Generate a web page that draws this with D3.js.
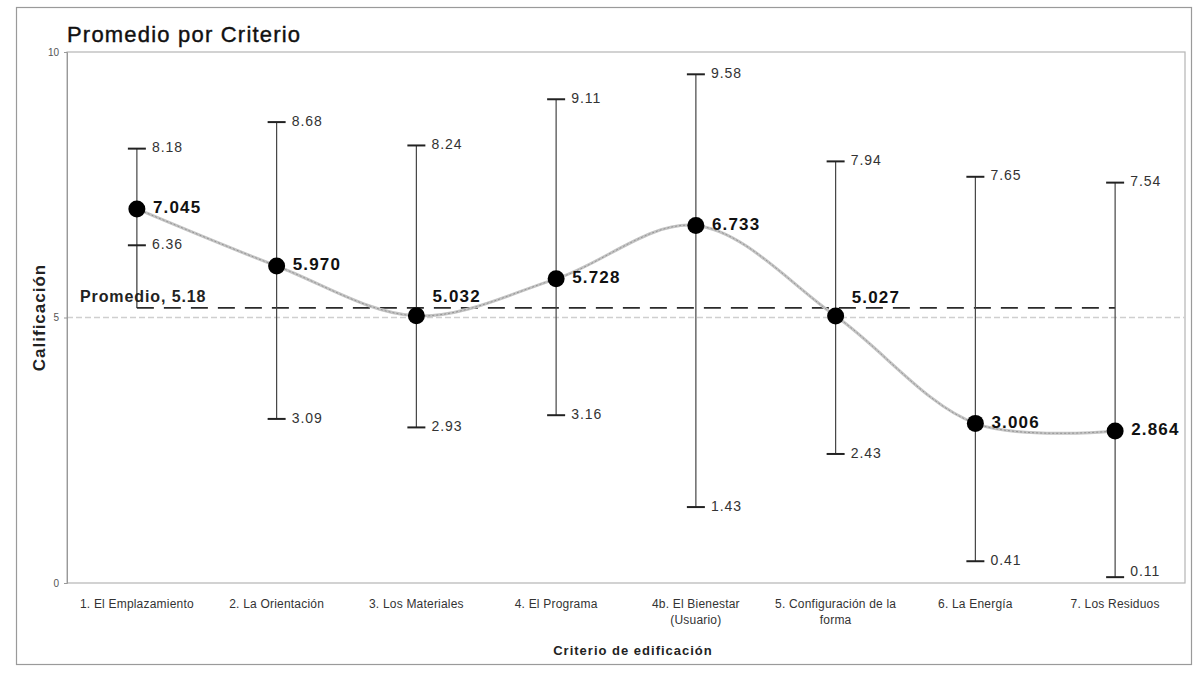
<!DOCTYPE html>
<html>
<head>
<meta charset="utf-8">
<script src="https://cdn.jsdelivr.net/npm/d3@7"></script>
<style>
  html, body { margin: 0; padding: 0; background: #fff; }
  svg { display: block; font-family: "Liberation Sans", Arial, sans-serif; }
</style>
</head>
<body>
<svg id="chart" width="1198" height="676"></svg>
<script>
// ---- data ----
const categories = [
  ["1. El Emplazamiento"],
  ["2. La Orientación"],
  ["3. Los Materiales"],
  ["4. El Programa"],
  ["4b. El Bienestar", "(Usuario)"],
  ["5. Configuración de la", "forma"],
  ["6. La Energía"],
  ["7. Los Residuos"]
];
const means = [7.045, 5.970, 5.032, 5.728, 6.733, 5.027, 3.006, 2.864];
const highs = [8.18, 8.68, 8.24, 9.11, 9.58, 7.94, 7.65, 7.54];
const lows  = [6.36, 3.09, 2.93, 3.16, 1.43, 2.43, 0.41, 0.11];
const average = 5.18;
const yTicks = [0, 5, 10];

const titleText = "Promedio por Criterio";
const yTitle = "Calificación";
const xTitle = "Criterio de edificación";
const avgLabel = "Promedio, 5.18";

// ---- layout ----
const svg = d3.select("#chart");
const plot = { left: 67, right: 1185, top: 52, bottom: 583 };

const x = d3.scaleBand()
  .domain(d3.range(categories.length))
  .range([plot.left, plot.right])
  .padding(0);
const cx = i => x(i) + x.bandwidth() / 2;
const y = d3.scaleLinear().domain([0, 10]).range([plot.bottom, plot.top]);

// outer frame
svg.append("rect")
  .attr("x", 16.5).attr("y", 7.5).attr("width", 1175).attr("height", 657)
  .attr("fill", "none").attr("stroke", "#9a9a9a").attr("stroke-width", 1.2);

// plot area border
svg.append("rect")
  .attr("x", plot.left).attr("y", plot.top)
  .attr("width", plot.right - plot.left).attr("height", plot.bottom - plot.top)
  .attr("fill", "none").attr("stroke", "#b5b5b5").attr("stroke-width", 1.2);

// gridline at 5
svg.append("line")
  .attr("x1", plot.left).attr("x2", plot.right)
  .attr("y1", y(5)).attr("y2", y(5))
  .attr("stroke", "#cfcfcf").attr("stroke-width", 1.5)
  .attr("stroke-dasharray", "6,3");

// y axis
const yAxis = d3.axisLeft(y).tickValues(yTicks).tickSize(3).tickFormat(d3.format("d"));
const gy = svg.append("g").attr("transform", `translate(${plot.left},0)`).call(yAxis);
gy.select(".domain").attr("stroke", "#999");
gy.selectAll(".tick line").attr("stroke", "#999");
gy.selectAll(".tick text")
  .attr("font-size", 10).attr("fill", "#555")
  .attr("font-family", "'Liberation Sans', Arial, sans-serif")
  .attr("x", -8);

// x axis labels
const xg = svg.append("g");
categories.forEach((lines, i) => {
  const t = xg.append("text")
    .attr("x", cx(i)).attr("y", 608)
    .attr("text-anchor", "middle")
    .attr("font-size", 12).attr("fill", "#333")
    .attr("letter-spacing", "0.2px");
  lines.forEach((ln, k) => {
    t.append("tspan").attr("x", cx(i)).attr("dy", k === 0 ? 0 : 16).text(ln);
  });
});

// titles
svg.append("text")
  .attr("x", 67).attr("y", 42)
  .attr("font-size", 22).attr("fill", "#111")
  .attr("stroke", "#111").attr("stroke-width", 0.4)
  .attr("letter-spacing", "1.2px")
  .text(titleText);

svg.append("text")
  .attr("transform", `translate(45,${y(5)}) rotate(-90)`)
  .attr("text-anchor", "middle")
  .attr("font-size", 17).attr("font-weight", "bold").attr("fill", "#222")
  .attr("letter-spacing", "1px")
  .text(yTitle);

svg.append("text")
  .attr("x", 633).attr("y", 655)
  .attr("text-anchor", "middle")
  .attr("font-size", 13).attr("font-weight", "bold").attr("fill", "#222")
  .attr("letter-spacing", "1px")
  .text(xTitle);

// average line (vertical lead from first low + dashed horizontal)
svg.append("line")
  .attr("x1", cx(0)).attr("x2", cx(0))
  .attr("y1", y(lows[0])).attr("y2", y(average))
  .attr("stroke", "#333").attr("stroke-width", 1.2);
svg.append("line")
  .attr("x1", cx(0)).attr("x2", cx(categories.length - 1))
  .attr("y1", y(average)).attr("y2", y(average))
  .attr("stroke", "#2a2a2a").attr("stroke-width", 1.7)
  .attr("stroke-dasharray", "17,10");
svg.append("text")
  .attr("x", 80).attr("y", 302)
  .attr("font-size", 16).attr("font-weight", "bold").attr("fill", "#222")
  .attr("letter-spacing", "0.9px")
  .text(avgLabel);

// smoothed mean line
const line = d3.line()
  .x((d, i) => cx(i))
  .y(d => y(d))
  .curve(d3.curveCatmullRom.alpha(0.5));
svg.append("path")
  .datum(means)
  .attr("d", line)
  .attr("fill", "none").attr("stroke", "#c4c4c4").attr("stroke-width", 3);
svg.append("path")
  .datum(means)
  .attr("d", line)
  .attr("fill", "none").attr("stroke", "#888").attr("stroke-width", 0.8)
  .attr("stroke-dasharray", "2,2");

// error bars
const eb = svg.append("g");
means.forEach((m, i) => {
  const X = cx(i);
  eb.append("line")
    .attr("x1", X).attr("x2", X)
    .attr("y1", y(highs[i])).attr("y2", y(lows[i]))
    .attr("stroke", "#444").attr("stroke-width", 1.2);
  [highs[i], lows[i]].forEach(v => {
    eb.append("line")
      .attr("x1", X - 9).attr("x2", X + 9)
      .attr("y1", y(v)).attr("y2", y(v))
      .attr("stroke", "#222").attr("stroke-width", 2);
    eb.append("text")
      .attr("x", X + 15).attr("y", y(v) - (v < 0.3 ? 5 : 0))
      .attr("dominant-baseline", "middle")
      .attr("font-size", 14).attr("fill", "#333")
      .attr("letter-spacing", "1px")
      .text(d3.format(".2f")(v));
  });
});

// mean dots and labels
const dg = svg.append("g");
means.forEach((m, i) => {
  const X = cx(i);
  dg.append("circle")
    .attr("cx", X).attr("cy", y(m)).attr("r", 8.5)
    .attr("fill", "#000");
  const nearAvg = Math.abs(m - average) < 0.3;
  dg.append("text")
    .attr("x", X + 16).attr("y", y(m) + (nearAvg ? -18 : 0))
    .attr("dominant-baseline", "middle")
    .attr("font-size", 17).attr("font-weight", "bold").attr("fill", "#111")
    .attr("letter-spacing", "1.2px")
    .text(d3.format(".3f")(m));
});
</script>
</body>
</html>
